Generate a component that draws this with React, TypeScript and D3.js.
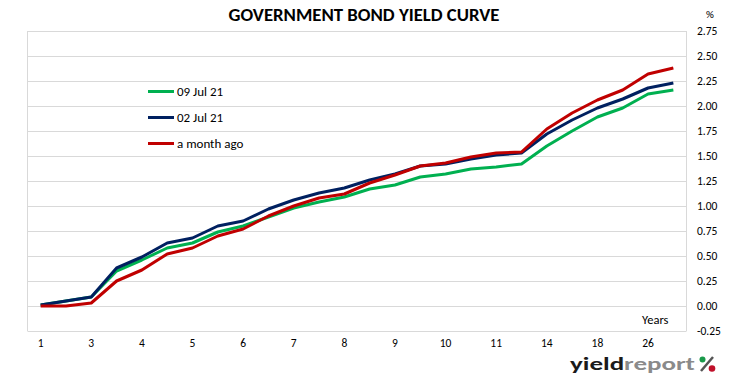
import React from "react";
import * as d3 from "d3";

const xLabels = ["1", "", "3", "", "4", "", "5", "", "6", "", "7", "", "8", "", "9", "", "10", "", "11", "", "14", "", "18", "", "26", ""];
const yTicks = [-0.25, 0, 0.25, 0.5, 0.75, 1, 1.25, 1.5, 1.75, 2, 2.25, 2.5, 2.75];

const seriesNames = ["09 Jul 21", "02 Jul 21", "a month ago"];
const seriesColors = ["#00b050", "#002060", "#c00000"];

const jul09 = [0.01, 0.05, 0.09, 0.35, 0.46, 0.58, 0.63, 0.74, 0.80, 0.89, 0.98, 1.04, 1.09, 1.17, 1.21, 1.29, 1.32, 1.37, 1.39, 1.42, 1.60, 1.75, 1.89, 1.98, 2.12, 2.16];
const jul02 = [0.01, 0.05, 0.09, 0.38, 0.49, 0.63, 0.68, 0.80, 0.85, 0.97, 1.06, 1.13, 1.18, 1.26, 1.32, 1.40, 1.42, 1.47, 1.51, 1.53, 1.72, 1.86, 1.98, 2.07, 2.18, 2.23];
const monthAgo = [0.00, 0.00, 0.03, 0.25, 0.36, 0.52, 0.58, 0.70, 0.77, 0.90, 1.00, 1.08, 1.12, 1.23, 1.31, 1.40, 1.43, 1.49, 1.53, 1.54, 1.77, 1.93, 2.06, 2.16, 2.32, 2.38];

const seriesValues = [jul09, jul02, monthAgo];

const W = 731;
const H = 381;
const plot = { left: 28, right: 686, top: 31, bottom: 331 };
const FONT = "Carlito, Calibri, Lato, 'Open Sans', sans-serif";

export default function App() {
  const x = d3
    .scaleBand<number>()
    .domain(d3.range(xLabels.length))
    .range([plot.left, plot.right]);
  const xc = (i: number) => (x(i) as number) + x.bandwidth() / 2;
  const y = d3.scaleLinear().domain([-0.25, 2.75]).range([plot.bottom, plot.top]);

  const line = d3
    .line<number>()
    .x((_, i) => xc(i))
    .y((d) => y(d));

  return (
    <svg
      width={W}
      height={H}
      style={{ position: "absolute", left: 0, top: 0, background: "#fff" }}
      fontFamily={FONT}
    >
      <rect x={0} y={0} width={W} height={H} fill="#fff" />
      <text
        x={364}
        y={21}
        textAnchor="middle"
        fontSize={17}
        fontWeight={900}
        fill="#000"
        textLength={271}
        lengthAdjust="spacingAndGlyphs"
      >
        GOVERNMENT BOND YIELD CURVE
      </text>
      <text x={710} y={18} textAnchor="middle" fontSize={11} fill="#000">
        %
      </text>

      {yTicks.map((t) => (
        <g key={t}>
          <line
            x1={plot.left}
            x2={plot.right}
            y1={Math.round(y(t)) + 0.5}
            y2={Math.round(y(t)) + 0.5}
            stroke="#d9d9d9"
            strokeWidth={1}
          />
          <text x={697} y={y(t)} dy="0.35em" fontSize={11.5} fill="#000">
            {t.toFixed(2)}
          </text>
        </g>
      ))}
      <line x1={plot.left - 0.5} x2={plot.left - 0.5} y1={plot.top} y2={plot.bottom + 0.5} stroke="#d9d9d9" />
      <line x1={plot.right + 0.5} x2={plot.right + 0.5} y1={plot.top} y2={plot.bottom + 0.5} stroke="#d9d9d9" />

      {xLabels.map((l, i) =>
        l ? (
          <text key={i} x={xc(i)} y={347} textAnchor="middle" fontSize={11.5} fill="#000">
            {l}
          </text>
        ) : null
      )}
      <text x={642} y={324} fontSize={12.5} fill="#000">
        Years
      </text>

      {seriesValues.map((vals, k) => (
        <path
          key={k}
          d={line(vals) || ""}
          fill="none"
          stroke={seriesColors[k]}
          strokeWidth={3}
          strokeLinejoin="round"
        />
      ))}

      {seriesNames.map((n, k) => {
        const ly = 91.5 + k * 26;
        return (
          <g key={n}>
            <line x1={148} x2={174} y1={ly} y2={ly} stroke={seriesColors[k]} strokeWidth={3} />
            <text x={177} y={ly} dy="0.35em" fontSize={13} fill="#000">
              {n}
            </text>
          </g>
        );
      })}

      <g fontWeight={900} fontSize={19}>
        <text x={570} y={370} textLength={125} lengthAdjust="spacingAndGlyphs">
          <tspan fill="#1a1a1a">yield</tspan>
          <tspan fill="#8a8a8a">report</tspan>
        </text>
        <line x1={701} x2={713} y1={371} y2={357} stroke="#555" strokeWidth={2.5} />
        <circle cx={702.5} cy={359.5} r={3} fill="#1a9a4a" />
        <circle cx={712} cy={368.5} r={3.3} fill="#c0102a" />
      </g>
    </svg>
  );
}
